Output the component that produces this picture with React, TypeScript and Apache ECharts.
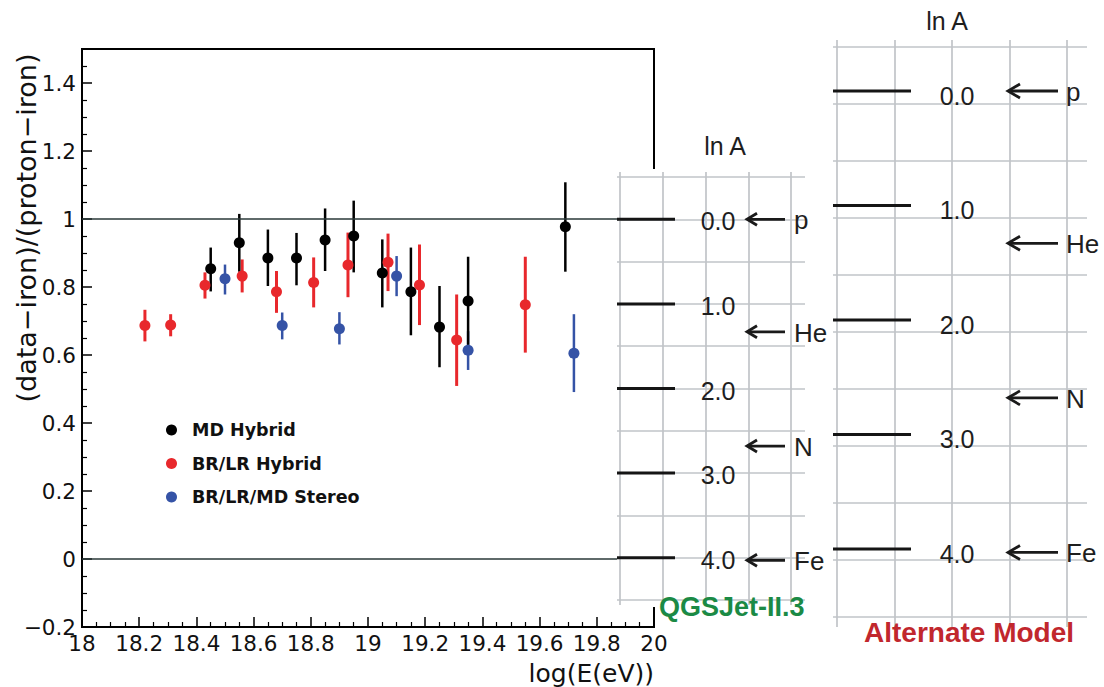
import React, { useEffect, useRef } from 'react';
import * as echarts from 'echarts';

// ---------- data ----------
const mdHybridX = [18.45, 18.55, 18.65, 18.75, 18.85, 18.95, 19.05, 19.15, 19.25, 19.35, 19.69];
const mdHybridY = [0.854, 0.93, 0.885, 0.885, 0.938, 0.95, 0.841, 0.786, 0.682, 0.759, 0.977];
const mdHybridLo = [0.787, 0.845, 0.803, 0.805, 0.847, 0.843, 0.74, 0.658, 0.564, 0.63, 0.845];
const mdHybridHi = [0.916, 1.015, 0.969, 0.959, 1.031, 1.054, 0.94, 0.916, 0.803, 0.889, 1.108];

const brlrHybridX = [18.22, 18.31, 18.43, 18.56, 18.68, 18.81, 18.93, 19.07, 19.18, 19.31, 19.55];
const brlrHybridY = [0.687, 0.688, 0.805, 0.832, 0.786, 0.813, 0.865, 0.873, 0.806, 0.644, 0.748];
const brlrHybridLo = [0.64, 0.655, 0.766, 0.784, 0.724, 0.74, 0.77, 0.788, 0.688, 0.509, 0.607];
const brlrHybridHi = [0.733, 0.72, 0.843, 0.881, 0.847, 0.887, 0.96, 0.957, 0.925, 0.778, 0.889];

const stereoX = [18.5, 18.7, 18.9, 19.1, 19.35, 19.72];
const stereoY = [0.824, 0.687, 0.677, 0.832, 0.614, 0.605];
const stereoLo = [0.778, 0.646, 0.631, 0.773, 0.556, 0.491];
const stereoHi = [0.866, 0.725, 0.726, 0.891, 0.67, 0.72];

const seriesNames = ['MD Hybrid', 'BR/LR Hybrid', 'BR/LR/MD Stereo'];
const refLineValues = [0, 1];

const lnATicks = [0, 1, 2, 3, 4];
const elementNames = ['p', 'He', 'N', 'Fe'];
const elementLnA = [0, 1.33, 2.68, 4.03];

const panelTitles = ['QGSJet-II.3', 'Alternate Model'];
const lnAHeader = 'ln A';
const xTitle = 'log(E(eV))';
const yTitle = '(data\u2212iron)/(proton\u2212iron)';

// ---------- styles ----------
const FONT = 'DejaVu Sans';
const ARIAL = 'Liberation Sans';
const BLACK = '#000000';
const RED = '#e8282c';
const BLUE = '#3553a6';
const GRID_LINE = { color: '#c1c4c8', width: 1.7 };

function errorBars(xs: number[], lo: number[], hi: number[], color: string, width: number) {
  return {
    type: 'custom',
    xAxisIndex: 0,
    yAxisIndex: 0,
    z: 3,
    silent: true,
    data: xs.map((x, i) => [x, lo[i], hi[i]]),
    encode: { x: 0, y: [1, 2] },
    renderItem: (params: any, api: any) => {
      const a = api.coord([api.value(0), api.value(1)]);
      const b = api.coord([api.value(0), api.value(2)]);
      return {
        type: 'line',
        shape: { x1: a[0], y1: a[1], x2: b[0], y2: b[1] },
        style: { stroke: color, lineWidth: width },
      };
    },
  };
}

function points(name: string, xs: number[], ys: number[], color: string, extra: any = {}) {
  return {
    type: 'scatter',
    name,
    xAxisIndex: 0,
    yAxisIndex: 0,
    z: 4,
    symbol: 'circle',
    symbolSize: 11,
    itemStyle: { color, opacity: 1 },
    data: xs.map((x, i) => [x, ys[i]]),
    ...extra,
  };
}

function markerSeries(xAxisIndex: number, yAxisIndex: number, lineLen: number, labelDx: number, labelDy: number) {
  return {
    type: 'custom',
    xAxisIndex,
    yAxisIndex,
    z: 22,
    silent: true,
    data: lnATicks.map((v) => [0, v]),
    encode: { x: 0, y: 1 },
    renderItem: (params: any, api: any) => {
      const cs = params.coordSys;
      const v = api.value(1);
      const y = api.coord([0, v])[1];
      return {
        type: 'group',
        children: [
          {
            type: 'line',
            shape: { x1: cs.x, y1: y, x2: cs.x + lineLen, y2: y },
            style: { stroke: '#151515', lineWidth: 3 },
          },
          {
            type: 'text',
            x: cs.x + labelDx,
            y: y + labelDy,
            style: {
              text: Number(v).toFixed(1),
              fill: '#1e1e1e',
              fontSize: 25,
              fontFamily: ARIAL,
              align: 'center',
              textAlign: 'center',
              verticalAlign: 'middle',
              textVerticalAlign: 'middle',
            },
          },
        ],
      };
    },
  };
}

function arrowSeries(xAxisIndex: number, yAxisIndex: number, headDx: number, tailDx: number, labelDx: number, headLen: number, headHalf: number) {
  return {
    type: 'custom',
    xAxisIndex,
    yAxisIndex,
    z: 22,
    silent: true,
    data: elementLnA.map((v, i) => [0, v, i]),
    encode: { x: 0, y: 1 },
    renderItem: (params: any, api: any) => {
      const cs = params.coordSys;
      const y = api.coord([0, api.value(1)])[1];
      const hx = cs.x + headDx;
      return {
        type: 'group',
        children: [
          {
            type: 'line',
            shape: { x1: hx + 1, y1: y, x2: cs.x + tailDx, y2: y },
            style: { stroke: '#1a1a1a', lineWidth: 2.8 },
          },
          {
            type: 'polyline',
            shape: { points: [[hx + headLen, y - headHalf], [hx, y], [hx + headLen, y + headHalf]] },
            style: { stroke: '#1a1a1a', lineWidth: 2.8, fill: 'none' },
          },
          {
            type: 'text',
            x: cs.x + labelDx,
            y: y + 1,
            style: {
              text: elementNames[api.value(2)],
              fill: '#1e1e1e',
              fontSize: 26,
              fontFamily: ARIAL,
              align: 'left',
              textAlign: 'left',
              verticalAlign: 'middle',
              textVerticalAlign: 'middle',
            },
          },
        ],
      };
    },
  };
}

const hiddenAxis = (gridIndex: number) => ({ type: 'value', gridIndex, min: 0, max: 1, show: false });
const gridLineAxis = (gridIndex: number, max: number) => ({
  type: 'value',
  gridIndex,
  min: 0,
  max,
  interval: 1,
  z: 21,
  axisLine: { show: false },
  axisTick: { show: false },
  axisLabel: { show: false },
  splitLine: { show: true, lineStyle: GRID_LINE },
});

const textStyle = (extra: any) => ({
  fontFamily: ARIAL,
  fill: '#1e1e1e',
  align: 'center',
  textAlign: 'center',
  verticalAlign: 'middle',
  textVerticalAlign: 'middle',
  ...extra,
});

const option: any = {
  animation: false,
  backgroundColor: '#ffffff',
  grid: [
    { left: 82, top: 49, width: 572, height: 578, show: true, borderColor: BLACK, borderWidth: 2, backgroundColor: 'transparent' },
    { left: 617, top: 177, width: 188, height: 423 },
    { left: 620, top: 172, width: 171, height: 433 },
    { left: 833, top: 47, width: 254, height: 570 },
    { left: 837, top: 40, width: 230, height: 587 },
  ],
  xAxis: [
    {
      type: 'value',
      gridIndex: 0,
      min: 18,
      max: 20,
      interval: 0.2,
      axisLine: { show: true, onZero: false, lineStyle: { color: BLACK, width: 2 } },
      axisTick: { show: true, inside: true, length: 10, lineStyle: { color: BLACK, width: 1.5 } },
      minorTick: { show: true, splitNumber: 4, length: 5, lineStyle: { color: BLACK, width: 1.2 } },
      axisLabel: { fontFamily: FONT, fontSize: 21.5, color: '#111', margin: 5 },
      splitLine: { show: false },
    },
    hiddenAxis(1),
    gridLineAxis(2, 4),
    hiddenAxis(3),
    gridLineAxis(4, 4),
  ],
  yAxis: [
    {
      type: 'value',
      gridIndex: 0,
      min: -0.2,
      max: 1.5,
      interval: 0.2,
      axisLine: { show: true, onZero: false, lineStyle: { color: BLACK, width: 2 } },
      axisTick: { show: true, inside: true, length: 10, lineStyle: { color: BLACK, width: 1.5 } },
      minorTick: { show: true, splitNumber: 4, length: 5, lineStyle: { color: BLACK, width: 1.2 } },
      axisLabel: {
        fontFamily: FONT,
        fontSize: 21.5,
        color: '#111',
        margin: 6,
        formatter: (v: number) => {
          if (v > 1.45) return '';
          const r = Math.round(v * 10) / 10;
          return r < 0 ? '\u2212' + Math.abs(r) : String(r);
        },
      },
      splitLine: { show: false },
    },
    { ...gridLineAxis(1, 10) },
    { type: 'value', gridIndex: 1, min: -0.5, max: 4.5, inverse: true, show: false },
    hiddenAxis(2),
    { ...gridLineAxis(3, 10) },
    { type: 'value', gridIndex: 3, min: -0.3843, max: 4.594, inverse: true, show: false },
    hiddenAxis(4),
  ],
  legend: {
    data: seriesNames,
    orient: 'vertical',
    left: 161,
    top: 416,
    itemWidth: 11,
    itemHeight: 11,
    itemGap: 15.5,
    icon: 'circle',
    selectedMode: false,
    textStyle: { fontFamily: FONT, fontWeight: 'bold', fontSize: 17.5, color: '#111', padding: [0, 0, 0, 10] },
  },
  graphic: [
    { type: 'rect', z: 20, silent: true, shape: { x: 617, y: 169, width: 195, height: 438 }, style: { fill: '#ffffff' } },
    {
      type: 'text', z: 25, x: 26, y: 228, rotation: Math.PI / 2,
      style: textStyle({ text: yTitle, fontFamily: FONT, fontSize: 27, fill: '#111' }),
    },
    {
      type: 'text', z: 25, x: 654, y: 673,
      style: textStyle({ text: xTitle, fontFamily: FONT, fontSize: 25, fill: '#111', align: 'right', textAlign: 'right' }),
    },
    { type: 'text', z: 25, x: 725, y: 146, style: textStyle({ text: lnAHeader, fontSize: 25 }) },
    { type: 'text', z: 25, x: 947, y: 21, style: textStyle({ text: lnAHeader, fontSize: 25 }) },
    {
      type: 'text', z: 25, x: 659, y: 607,
      style: textStyle({ text: panelTitles[0], fontSize: 27, fontWeight: 'bold', fill: '#1b8a45', align: 'left', textAlign: 'left' }),
    },
    {
      type: 'text', z: 25, x: 969, y: 632,
      style: textStyle({ text: panelTitles[1], fontSize: 28, fontWeight: 'bold', fill: '#c1272d' }),
    },
  ],
  series: [
    errorBars(brlrHybridX, brlrHybridLo, brlrHybridHi, RED, 3),
    errorBars(stereoX, stereoLo, stereoHi, BLUE, 2.5),
    errorBars(mdHybridX, mdHybridLo, mdHybridHi, BLACK, 2.5),
    points(seriesNames[1], brlrHybridX, brlrHybridY, RED, {
      markLine: {
        silent: true,
        symbol: ['none', 'none'],
        label: { show: false },
        lineStyle: { color: '#2a3838', width: 1.5, type: 'solid' },
        data: refLineValues.map((v) => ({ yAxis: v })),
      },
    }),
    points(seriesNames[2], stereoX, stereoY, BLUE),
    points(seriesNames[0], mdHybridX, mdHybridY, BLACK),
    markerSeries(1, 2, 58, 101, 2),
    arrowSeries(1, 2, 130, 168, 177, 10, 6),
    markerSeries(3, 5, 78, 124, 5),
    arrowSeries(3, 5, 175, 225, 233, 12, 7),
  ],
};

export default function App() {
  const ref = useRef<HTMLDivElement>(null);
  useEffect(() => {
    if (!ref.current) return;
    const chart = echarts.init(ref.current, null, { renderer: 'svg' });
    chart.setOption(option);
    return () => chart.dispose();
  }, []);
  return (
    <div
      ref={ref}
      style={{ position: 'fixed', left: 0, top: 0, width: 1104, height: 687, background: '#ffffff' }}
    />
  );
}
